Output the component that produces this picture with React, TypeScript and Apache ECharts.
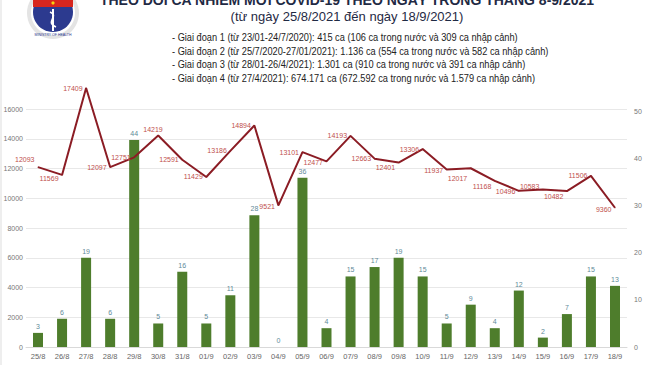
import React, { useEffect, useRef } from "react";
import * as echarts from "echarts";

const categories = [
  "25/8", "26/8", "27/8", "28/8", "29/8", "30/8", "31/8", "01/9", "02/9", "03/9",
  "04/9", "05/9", "06/9", "07/9", "08/9", "09/8", "10/9", "11/9", "12/9", "13/9",
  "14/9", "15/9", "16/9", "17/9", "18/9",
];
const importedCases = [3, 6, 19, 6, 44, 5, 16, 5, 11, 28, 0, 36, 4, 15, 17, 19, 15, 5, 9, 4, 12, 2, 7, 15, 13];
const dailyCases = [
  12093, 11569, 17409, 12097, 12751, 14219, 12591, 11429, 13186, 14894,
  9521, 13101, 12477, 14193, 12663, 12401, 13306, 11937, 12017, 11168,
  10496, 10583, 10482, 11506, 9360,
];
const leftTicks = { min: 0, max: 16000, interval: 2000 };
const rightTicks = { min: 0, max: 50.6, interval: 10 };
// label nudges for line labels (style only)
const labelNudgeY = [-8, 4, 0, 0, 0, -6, 0, 0, 0, 0, 1, 0, 1, 0, 0, 5, 0, 1, 10, 6, 1, -3, 5, 0, 2];
const labelNudgeX = [0, 0, 0, 0, 0, 8, 0, 0, 0, 0, 0, 0, 0, 0, 0, 0, 0, 0, 0, 0, 0, 0, 0, 0, 0];

const titleLine1 = "THEO DÕI CA NHIỄM MỚI COVID-19 THEO NGÀY TRONG THÁNG 8-9/2021";
const titleLine2 = "(từ ngày 25/8/2021 đến ngày 18/9/2021)";
const notes = [
  "- Giai đoạn 1 (từ 23/01-24/7/2020): 415 ca (106 ca trong nước và 309 ca nhập cảnh)",
  "- Giai đoạn 2 (từ 25/7/2020-27/01/2021): 1.136 ca (554 ca trong nước và 582 ca nhập cảnh)",
  "- Giai đoạn 3 (từ 28/01-26/4/2021): 1.301 ca (910 ca trong nước và 391 ca nhập cảnh)",
  "- Giai đoạn 4 (từ 27/4/2021): 674.171 ca (672.592 ca trong nước và 1.579 ca nhập cảnh)",
];

const FONT = "Liberation Sans, Arial, sans-serif";

export default function App() {
  const ref = useRef<HTMLDivElement>(null);
  useEffect(() => {
    if (!ref.current) return;
    const chart = echarts.init(ref.current, undefined, { renderer: "svg" });
    const noteTexts = notes.map((t, i) => ({
      type: "text",
      x: 172,
      y: 37.5 + i * 13.6,
      scaleX: 0.88,
      style: { text: t, font: `10.5px ${FONT}`, fill: "#222", align: "left", verticalAlign: "middle" },
    }));
    chart.setOption({
      animation: false,
      backgroundColor: "#ffffff",
      textStyle: { fontFamily: FONT },
      grid: { left: 26, right: 23, top: 109, bottom: 18, containLabel: false },
      xAxis: {
        type: "category",
        data: categories,
        axisTick: { show: false },
        axisLine: { lineStyle: { color: "#d9d9d9" } },
        axisLabel: { fontSize: 7.5, color: "#666", margin: 5, interval: 0 },
      },
      yAxis: [
        {
          type: "value",
          min: leftTicks.min,
          max: leftTicks.max,
          interval: leftTicks.interval,
          axisLabel: { fontSize: 7, color: "#777", margin: 3, formatter: (v: number) => String(v) },
          splitLine: { lineStyle: { color: "#e8e8e8" } },
          axisLine: { show: false },
          axisTick: { show: false },
        },
        {
          type: "value",
          min: rightTicks.min,
          max: rightTicks.max,
          interval: rightTicks.interval,
          axisLabel: { fontSize: 7, color: "#777", margin: 7, showMaxLabel: false, formatter: (v: number) => String(v) },
          splitLine: { show: false },
          axisLine: { show: false },
          axisTick: { show: false },
        },
      ],
      series: [
        {
          type: "bar",
          yAxisIndex: 1,
          data: importedCases,
          barWidth: 10,
          itemStyle: { color: "#4e7d2c" },
          label: { show: true, position: "top", fontSize: 7, color: "#5f8b99", distance: 3 },
        },
        {
          type: "line",
          yAxisIndex: 0,
          clip: false,
          data: dailyCases,
          symbol: "circle",
          symbolSize: 1,
          showSymbol: true,
          itemStyle: { color: "#8b1c24" },
          lineStyle: { color: "#8b1c24", width: 2 },
          label: { show: true, position: "left", fontSize: 7, color: "#c0504d", distance: 3 },
          labelLayout: (p: any) => ({
            dx: labelNudgeX[p.dataIndex] || 0,
            dy: labelNudgeY[p.dataIndex] || 0,
            hideOverlap: false,
          }),
          z: 5,
        },
      ],
      graphic: [
        // logo
        { type: "circle", shape: { cx: 53, cy: 13, r: 26 }, style: { fill: "#e4e4e4" } },
        { type: "circle", shape: { cx: 53, cy: 13, r: 22 }, style: { fill: "#ffffff" } },
        { type: "circle", shape: { cx: 53, cy: 12, r: 20 }, style: { fill: "#2c3a8f" } },
        { type: "rect", shape: { x: 33, y: -10, width: 40, height: 17 }, style: { fill: "#d7261e" } },
        { type: "circle", shape: { cx: 53, cy: 3, r: 1.6 }, style: { fill: "#f5d30f" } },
        { type: "line", shape: { x1: 53, y1: 9, x2: 53, y2: 31 }, style: { stroke: "#ffffff", lineWidth: 2 } },
        {
          type: "bezierCurve",
          shape: { x1: 50, y1: 12, cpx1: 60, cpy1: 16, cpx2: 44, cpy2: 22, x2: 56, y2: 27 },
          style: { stroke: "#ffffff", lineWidth: 1.6, fill: "none" },
        },
        {
          type: "text",
          x: 53,
          y: 35,
          style: { text: "MINISTRY OF HEALTH", font: `3.5px ${FONT}`, fill: "#2c3a8f", align: "center", verticalAlign: "middle" },
        },
        // titles
        {
          type: "text",
          x: 347,
          y: 7,
          style: { text: titleLine1, font: `bold 14px ${FONT}`, fill: "#1f2a44", align: "center", verticalAlign: "bottom" },
        },
        {
          type: "text",
          x: 347,
          y: 16,
          style: { text: titleLine2, font: `13px ${FONT}`, fill: "#1f2a44", align: "center", verticalAlign: "middle" },
        },
        ...noteTexts,
        { type: "line", shape: { x1: 1, y1: 0, x2: 1, y2: 365 }, style: { stroke: "#dddddd", lineWidth: 1 } },
      ],
    });
    return () => chart.dispose();
  }, []);
  return <div ref={ref} style={{ position: "fixed", left: 0, top: 0, width: 650, height: 365 }} />;
}
